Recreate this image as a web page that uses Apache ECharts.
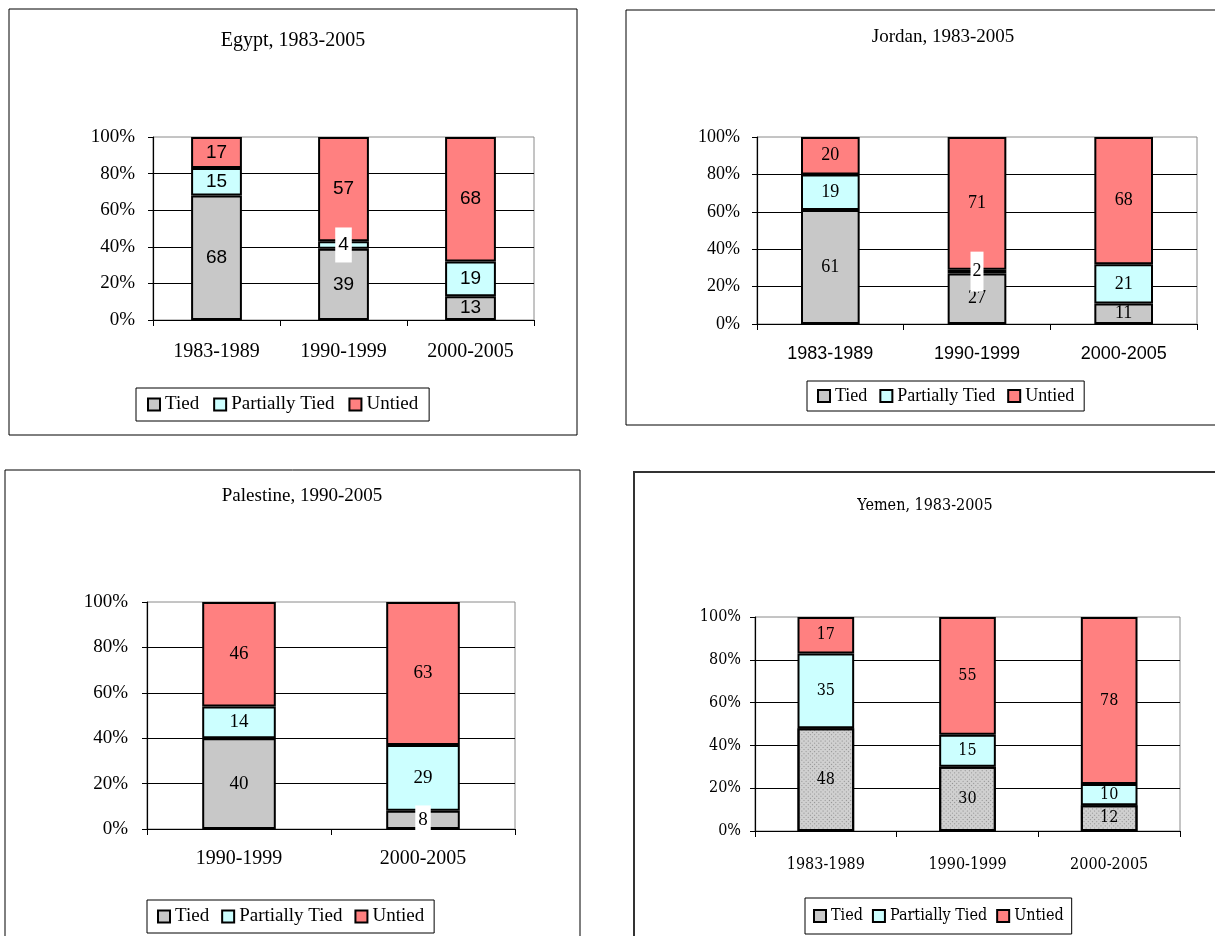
<!DOCTYPE html>
<html><head><meta charset="utf-8">
<script src="https://cdn.jsdelivr.net/npm/echarts@6/dist/echarts.min.js"></script>
<style>html,body{margin:0;padding:0;background:#fff}#c{width:1215px;height:936px}</style>
</head><body><div id="c"></div>
<script>
// ---------- DATA ----------
const seriesNames = ['Tied', 'Partially Tied', 'Untied'];
const yTickLabels = ['0%', '20%', '40%', '60%', '80%', '100%'];

const egyptTitle = 'Egypt, 1983-2005';
const egyptCats = ['1983-1989', '1990-1999', '2000-2005'];
const egyptTied = [68, 39, 13];
const egyptPartial = [15, 4, 19];
const egyptUntied = [17, 57, 68];

const jordanTitle = 'Jordan, 1983-2005';
const jordanCats = ['1983-1989', '1990-1999', '2000-2005'];
const jordanTied = [61, 27, 11];
const jordanPartial = [19, 2, 21];
const jordanUntied = [20, 71, 68];

const palestineTitle = 'Palestine, 1990-2005';
const palestineCats = ['1990-1999', '2000-2005'];
const palestineTied = [40, 8];
const palestinePartial = [14, 29];
const palestineUntied = [46, 63];

const yemenTitle = 'Yemen, 1983-2005';
const yemenCats = ['1983-1989', '1990-1999', '2000-2005'];
const yemenTied = [48, 30, 12];
const yemenPartial = [35, 15, 10];
const yemenUntied = [17, 55, 78];

// ---------- STYLE / LAYOUT ----------
const SERIF = "'Liberation Serif','Times New Roman',serif";
const SANS = "'Liberation Sans',Arial,sans-serif";
const COND = "'DejaVu Serif Condensed','Liberation Sans Narrow','Liberation Serif',serif";
const colors = ['#C8C8C8', '#CCFFFF', '#FF8080'];

const panels = [
  { title: egyptTitle, cats: egyptCats, data: [egyptTied, egyptPartial, egyptUntied],
    grid: {left: 153, top: 137, width: 381, height: 183},
    frame: [9, 9, 568, 426, 1, '#000'], titleX: 288, titleY: 26, titleSize: 20, titleFont: SERIF,
    yFont: SERIF, ySize: 19, yMargin: 18, catFont: SERIF, catSize: 20, catMargin: 22,
    valFont: SANS, valSize: 19, legend: {left: 136, top: 388, size: 19, gap: 14, pad: [7, 11]},
    boxed: {s: 1, i: 1, pad: [8, 3]} },
  { title: jordanTitle, cats: jordanCats, data: [jordanTied, jordanPartial, jordanUntied],
    grid: {left: 757, top: 137, width: 440, height: 187},
    frame: [626, 10, 620, 415, 1, '#000'], titleX: 938, titleY: 23, titleSize: 19, titleFont: SERIF,
    yFont: SERIF, ySize: 18, yMargin: 17, catFont: SANS, catSize: 18, catMargin: 21,
    valFont: SERIF, valSize: 18, legend: {left: 807, top: 381, size: 18, gap: 12, pad: [6, 10]},
    boxed: {s: 1, i: 1, pad: [11, 2]} },
  { title: palestineTitle, cats: palestineCats, data: [palestineTied, palestinePartial, palestineUntied],
    grid: {left: 147, top: 602, width: 368, height: 227},
    frame: [5, 470, 575, 480, 1, '#000'], titleX: 297, titleY: 482, titleSize: 19, titleFont: SERIF,
    yFont: SERIF, ySize: 19, yMargin: 19, catFont: SERIF, catSize: 20, catMargin: 20,
    valFont: SERIF, valSize: 19, legend: {left: 147, top: 900, size: 19, gap: 12, pad: [7, 10]},
    boxed: {s: 0, i: 1, pad: [5, 3]} },
  { title: yemenTitle, cats: yemenCats, data: [yemenTied, yemenPartial, yemenUntied],
    grid: {left: 755, top: 617, width: 425, height: 214},
    frame: [634, 472, 620, 480, 2, '#333'], titleX: 920, titleY: 493, titleSize: 16, titleFont: COND,
    yFont: COND, ySize: 16, yMargin: 14, catFont: COND, catSize: 16, catMargin: 26,
    valFont: COND, valSize: 16, legend: {left: 805, top: 898, size: 16, gap: 9, pad: [10, 8]},
    boxed: null, hatch: true }
];

const grids = [], xAxes = [], yAxes = [], series = [], titles = [], legends = [], graphics = [];

panels.forEach((p, k) => {
  graphics.push({type: 'rect', silent: true, z: -1,
    shape: {x: p.frame[0], y: p.frame[1], width: p.frame[2], height: p.frame[3]},
    style: {fill: 'none', stroke: p.frame[5], lineWidth: p.frame[4]}});
  titles.push({text: p.title, left: p.titleX, top: p.titleY, textAlign: 'center',
    textStyle: {fontFamily: p.titleFont, fontSize: p.titleSize, fontWeight: 'normal', color: '#000'}});
  grids.push(Object.assign({show: true, borderColor: '#8a8a8a', borderWidth: 1, backgroundColor: 'transparent'}, p.grid));
  xAxes.push({type: 'category', gridIndex: k, data: p.cats, boundaryGap: true,
    axisLine: {show: true, lineStyle: {color: '#000', width: 1.2}},
    axisTick: {show: true, alignWithLabel: false, length: 6, lineStyle: {color: '#000'}},
    axisLabel: {margin: p.catMargin, fontFamily: p.catFont, fontSize: p.catSize, color: '#000'},
    splitLine: {show: false}});
  yAxes.push({type: 'value', gridIndex: k, min: 0, max: 100, interval: 20,
    axisLine: {show: true, lineStyle: {color: '#000', width: 1.2}},
    axisTick: {show: true, length: 5, lineStyle: {color: '#000'}},
    axisLabel: {margin: p.yMargin, fontFamily: p.yFont, fontSize: p.ySize, color: '#000',
      formatter: v => yTickLabels[Math.round(v / 20)]},
    splitLine: {show: true, showMaxLine: false, lineStyle: {color: '#000', width: 1}}});
  p.data.forEach((arr, s) => {
    const itemStyle = {color: colors[s], borderColor: '#000', borderWidth: 2};
    if (s === 0 && p.hatch) {
      itemStyle.color = '#D0D0D0';
      itemStyle.decal = {symbol: 'rect', symbolSize: 1, color: 'rgba(90,90,90,0.55)',
        dashArrayX: [1, 2], dashArrayY: [1, 2], rotation: Math.PI / 4};
    }
    series.push({
      type: 'bar', name: seriesNames[s], xAxisIndex: k, yAxisIndex: k, stack: 'panel' + k,
      barWidth: '40%', itemStyle: itemStyle,
      label: {show: true, position: 'inside', color: '#000', fontFamily: p.valFont, fontSize: p.valSize},
      data: arr.map((v, i) => {
        const d = {value: v};
        if (p.boxed && p.boxed.s === s && p.boxed.i === i) {
          d.label = {backgroundColor: '#fff', padding: p.boxed.pad};
        }
        return d;
      })
    });
  });
  legends.push({data: seriesNames, left: p.legend.left, top: p.legend.top, orient: 'horizontal',
    icon: 'rect', itemWidth: 12, itemHeight: 12, itemGap: p.legend.gap,
    padding: p.legend.pad, borderColor: '#000', borderWidth: 1, backgroundColor: '#fff',
    selectedMode: false,
    textStyle: {fontFamily: k === 3 ? COND : SERIF, fontSize: p.legend.size, color: '#000'},
    itemStyle: {borderColor: '#000', borderWidth: 2}});
});

const chart = echarts.init(document.getElementById('c'), null, {renderer: 'canvas'});
chart.setOption({
  animation: false,
  backgroundColor: '#fff',
  title: titles, legend: legends, grid: grids, xAxis: xAxes, yAxis: yAxes, series: series,
  graphic: graphics
});
</script></body></html>
